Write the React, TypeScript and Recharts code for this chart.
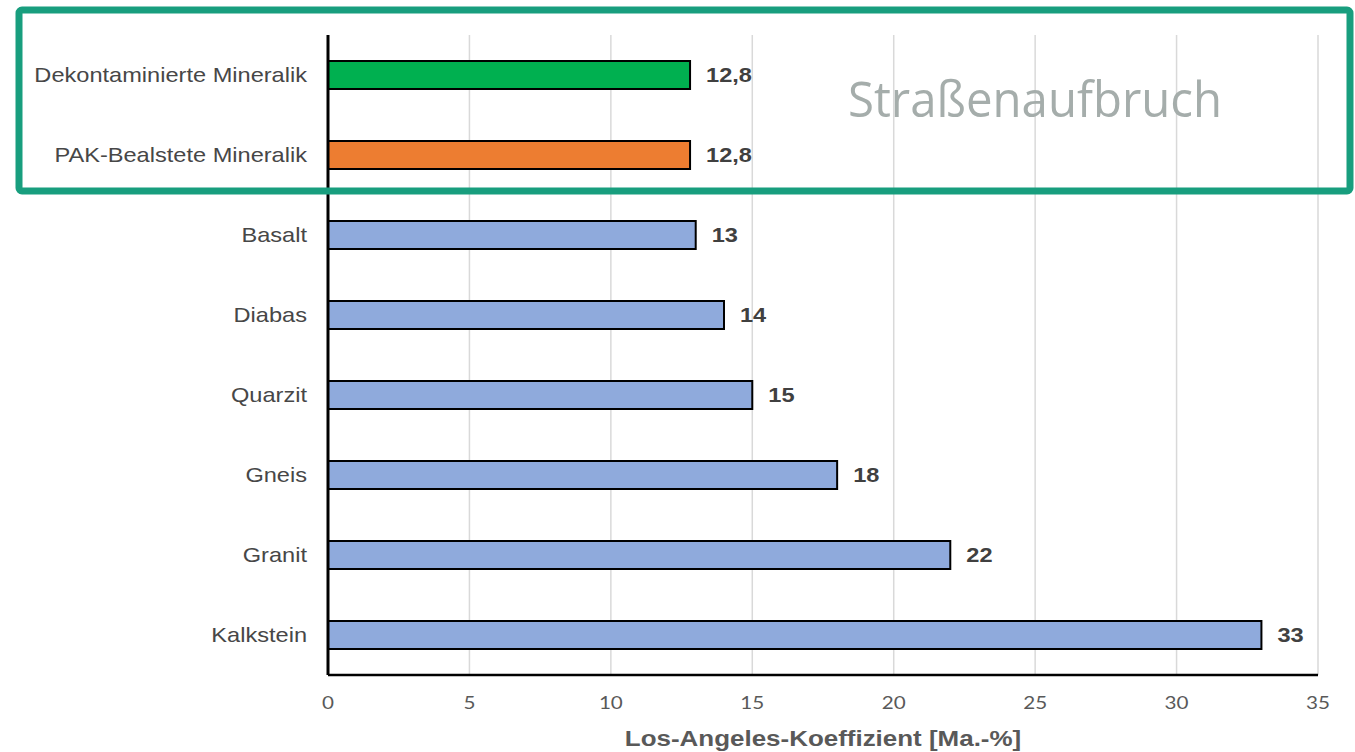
import React from 'react';
import {
  BarChart,
  Bar,
  XAxis,
  YAxis,
  CartesianGrid,
  Cell,
  LabelList,
} from 'recharts';

// Rock types and recycled aggregates, top to bottom
const categories = [
  'Dekontaminierte Mineralik',
  'PAK-Bealstete Mineralik',
  'Basalt',
  'Diabas',
  'Quarzit',
  'Gneis',
  'Granit',
  'Kalkstein',
];

// Los-Angeles coefficient in mass-%
const laValues = [12.8, 12.8, 13, 14, 15, 18, 22, 33];

const barColors = [
  '#00b050',
  '#ed7d31',
  '#8faadc',
  '#8faadc',
  '#8faadc',
  '#8faadc',
  '#8faadc',
  '#8faadc',
];

const xTicks = [0, 5, 10, 15, 20, 25, 30, 35];

const axisTitle = 'Los-Angeles-Koeffizient [Ma.-%]';
const boxTitle = 'Straßenaufbruch';

const data = categories.map((name, i) => ({ name, value: laValues[i], color: barColors[i] }));

const W = 1355;
const H = 752;
const STRETCH = 1.18;
const SANS = '"Liberation Sans", Arial, sans-serif';

const stretchAt = (x: number, y: number) => `translate(${x} ${y}) scale(${STRETCH} 1)`;

const formatDe = (v: number) => String(v).replace('.', ',');

const CategoryTick = (props: any) => {
  const { x, y, payload } = props;
  return (
    <text
      transform={stretchAt(x - 21, y + 7)}
      textAnchor="end"
      fontFamily={SANS}
      fontSize={20}
      fill="#474747"
    >
      {payload.value}
    </text>
  );
};

const ValueTick = (props: any) => {
  const { x, y, payload } = props;
  return (
    <text
      transform={stretchAt(x, y + 34)}
      textAnchor="middle"
      fontFamily="Lato, sans-serif"
      fontSize={17.5}
      fill="#595959"
    >
      {payload.value}
    </text>
  );
};

const AxisTitle = (props: any) => {
  const vb = props.viewBox || {};
  const cx = vb.x + vb.width / 2;
  return (
    <text
      transform={stretchAt(cx, vb.y + 71)}
      textAnchor="middle"
      fontFamily={SANS}
      fontWeight="bold"
      fontSize={22}
      fill="#595959"
    >
      {axisTitle}
    </text>
  );
};

const BarValue = (props: any) => {
  const { x, y, width, height, value } = props;
  return (
    <text
      transform={stretchAt(Number(x) + Number(width) + 16, Number(y) + Number(height) / 2 + 7)}
      textAnchor="start"
      fontFamily={SANS}
      fontWeight="bold"
      fontSize={20}
      fill="#404040"
    >
      {formatDe(Number(value))}
    </text>
  );
};

export default function App() {
  return (
    <div
      style={{
        position: 'absolute',
        left: 0,
        top: 0,
        width: W,
        height: H,
        background: '#ffffff',
      }}
    >
      <BarChart
        width={W}
        height={H}
        data={data}
        layout="vertical"
        margin={{ top: 35, right: 37, bottom: 47, left: 10 }}
        barCategoryGap={0}
      >
        <CartesianGrid horizontal={false} stroke="#d9d9d9" strokeWidth={1.5} />
        <XAxis
          type="number"
          domain={[0, 35]}
          ticks={xTicks}
          interval={0}
          height={30}
          tickSize={0}
          tickMargin={0}
          tickLine={false}
          axisLine={{ stroke: '#000000', strokeWidth: 2.5 }}
          tick={<ValueTick />}
          label={<AxisTitle />}
        />
        <XAxis
          xAxisId="top"
          orientation="top"
          type="number"
          domain={[0, 35]}
          height={0}
          tick={false}
          tickLine={false}
          axisLine={{ stroke: '#d9d9d9', strokeWidth: 1.5 }}
        />
        <YAxis
          type="category"
          dataKey="name"
          width={318}
          tickSize={0}
          tickMargin={0}
          tickLine={false}
          interval={0}
          axisLine={{ stroke: '#000000', strokeWidth: 3 }}
          tick={<CategoryTick />}
        />
        <Bar
          dataKey="value"
          barSize={28}
          stroke="#000000"
          strokeWidth={2}
          isAnimationActive={false}
        >
          {data.map((d) => (
            <Cell key={d.name} fill={d.color} />
          ))}
          <LabelList dataKey="value" content={<BarValue />} />
        </Bar>
      </BarChart>
      <svg
        width={W}
        height={H}
        style={{ position: 'absolute', left: 0, top: 0, pointerEvents: 'none' }}
      >
        <rect
          x={19}
          y={10}
          width={1331}
          height={181}
          rx={3}
          fill="none"
          stroke="#189e7e"
          strokeWidth={7}
        />
        <text
          x={848}
          y={117}
          fontFamily='"Open Sans", "Noto Sans", sans-serif'
          fontSize={50}
          fill="#a5adab"
          textLength={374}
          lengthAdjust="spacingAndGlyphs"
        >
          {boxTitle}
        </text>
      </svg>
    </div>
  );
}
